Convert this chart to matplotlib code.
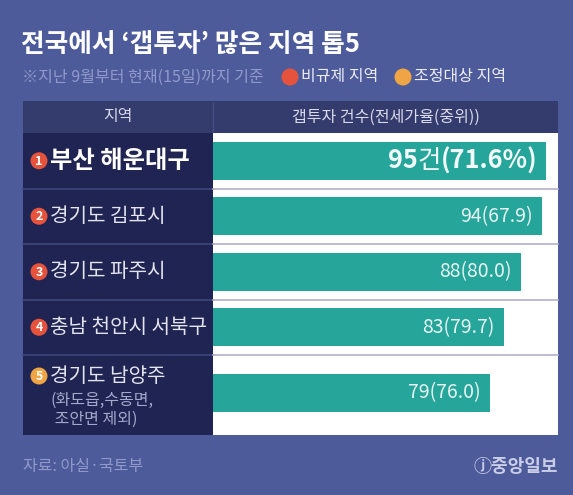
import matplotlib.pyplot as plt
from matplotlib.patches import Rectangle, Circle

plt.rcParams["font.family"] = ["Noto Sans CJK KR", "DejaVu Sans"]

# data
regions = ["부산 해운대구", "경기도 김포시", "경기도 파주시", "충남 천안시 서북구", "경기도 남양주"]
region_notes = ["", "", "", "", "(화도읍,수동면,\n 조안면 제외)"]
gap_counts = [95, 94, 88, 83, 79]
jeonse_ratio = [71.6, 67.9, 80.0, 79.7, 76.0]
region_kind = ["비규제", "비규제", "비규제", "비규제", "조정대상"]

title = "전국에서 ‘갭투자’ 많은 지역 톱5"
subtitle = "※지난 9월부터 현재(15일)까지 기준"
legend_labels = {"비규제": "비규제 지역", "조정대상": "조정대상 지역"}
col_headers = ["지역", "갭투자 건수(전세가율(중위))"]
source = "자료: 아실·국토부"

BG = "#4E5B9B"
HEADER = "#343B6D"
LEFT_CELL = "#1F2452"
BAR = "#26A59B"
KIND_COLORS = {"비규제": "#E5533C", "조정대상": "#F0A545"}

W, H = 573, 495
fig = plt.figure(figsize=(W / 100, H / 100), dpi=100, facecolor=BG)

# background axes in pixel coordinates for the table frame and texts
bg = fig.add_axes([0, 0, 1, 1])
bg.set_xlim(0, W)
bg.set_ylim(H, 0)
bg.axis("off")

tab_l, tab_m, tab_r = 23, 213, 558
head_t, head_b = 101, 133
tab_b = 435
row_h = 55.5
n = len(regions)
bounds = [head_b + i * row_h for i in range(n)] + [tab_b]

bg.add_patch(Rectangle((tab_l, head_t), tab_r - tab_l, head_b - head_t, color=HEADER, lw=0))
bg.plot([tab_m, tab_m], [head_t + 2, head_b - 2], color="#454D83", lw=1)
bg.add_patch(Rectangle((tab_l, head_b), tab_m - tab_l, tab_b - head_b, color=LEFT_CELL, lw=0))
bg.add_patch(Rectangle((tab_m, head_b), tab_r - tab_m, tab_b - head_b, color="white", lw=0))
for yb in bounds[1:-1]:
    bg.plot([tab_l, tab_m], [yb, yb], color="#3E467C", lw=1.2)
    bg.plot([tab_m, tab_r], [yb, yb], color="#B2B0CC", lw=1.2)

hc = (head_t + head_b) / 2
bg.text((tab_l + tab_m) / 2, hc, col_headers[0], color="#D8DAEA", fontsize=11.5, ha="center", va="center")
bg.text((tab_m + tab_r) / 2, hc, col_headers[1], color="#D8DAEA", fontsize=11.5, ha="center", va="center")

bg.text(21, 44, title, color="white", fontsize=18.5, fontweight="bold", ha="left", va="center")
bg.text(22, 77, subtitle, color="#8F9ACB", fontsize=11.5, ha="left", va="center")
lx = 290
for kind in ["비규제", "조정대상"]:
    bg.add_patch(Circle((lx, 77), 8.5, color=KIND_COLORS[kind], lw=0))
    bg.text(lx + 11, 77, legend_labels[kind], color="#ECECF4", fontsize=11.5, ha="left", va="center")
    lx = 403

bg.text(23, 466, source, color="#8F9ACB", fontsize=11.5, ha="left", va="center")
bg.text(558, 466, "ⓙ중앙일보", color="#C9CDE6", fontsize=13, fontweight="bold", ha="right", va="center")

# row labels in the left column
label_y = [bounds[i] + row_h / 2 for i in range(n)]
label_y[-1] = bounds[-2] + 21
for i, (name, kind, note) in enumerate(zip(regions, region_kind, region_notes)):
    y = label_y[i]
    bg.add_patch(Circle((39, y), 8.5, color=KIND_COLORS[kind], lw=0))
    bg.text(39, y + 0.5, str(i + 1), color="white", fontsize=9, fontweight="bold", ha="center", va="center")
    if i == 0:
        bg.text(50, y, name, color="white", fontsize=17.5, fontweight="bold", ha="left", va="center")
    else:
        bg.text(50, y, name, color="#E4E4EE", fontsize=14.5, ha="left", va="center")
    if note:
        bg.text(51, y + 34, note, color="#A4A8CC", fontsize=11.5, ha="left", va="center", linespacing=1.15)

# bar axes over the right column
ax = fig.add_axes([tab_m / W, 1 - tab_b / H, (tab_r - tab_m) / W, (tab_b - head_b) / H])
ax.patch.set_alpha(0)
ax.axis("off")
px_per_unit = 3.5
ax.set_xlim(0, (tab_r - tab_m) / px_per_unit)
ax.set_ylim((tab_b - head_b) / row_h, 0)
ypos = [i + 0.5 for i in range(n)]
ypos[-1] = 4.68
ax.barh(ypos, gap_counts, height=0.68, color=BAR, edgecolor="none")

fig.canvas.draw()
renderer = fig.canvas.get_renderer()
for i, (c, r) in enumerate(zip(gap_counts, jeonse_ratio)):
    if i == 0:
        # big label with mixed weights, built right to left
        x_right = c - 2.3
        parts = [(f"({r:.1f}%)", "bold"), ("건", "normal"), (f"{c}", "bold")]
        for txt, wt in parts:
            t = ax.text(x_right, ypos[i], txt, color="#F2FAF9", fontsize=18.3, fontweight=wt, ha="right", va="center")
            bb = t.get_window_extent(renderer)
            x_right = ax.transData.inverted().transform((bb.x0, 0))[0]
    else:
        ax.text(c - 2.6, ypos[i], f"{c}({r:.1f})", color="#E6F4F2", fontsize=14, ha="right", va="center")

fig.savefig("out.png", dpi=100, facecolor=BG)
